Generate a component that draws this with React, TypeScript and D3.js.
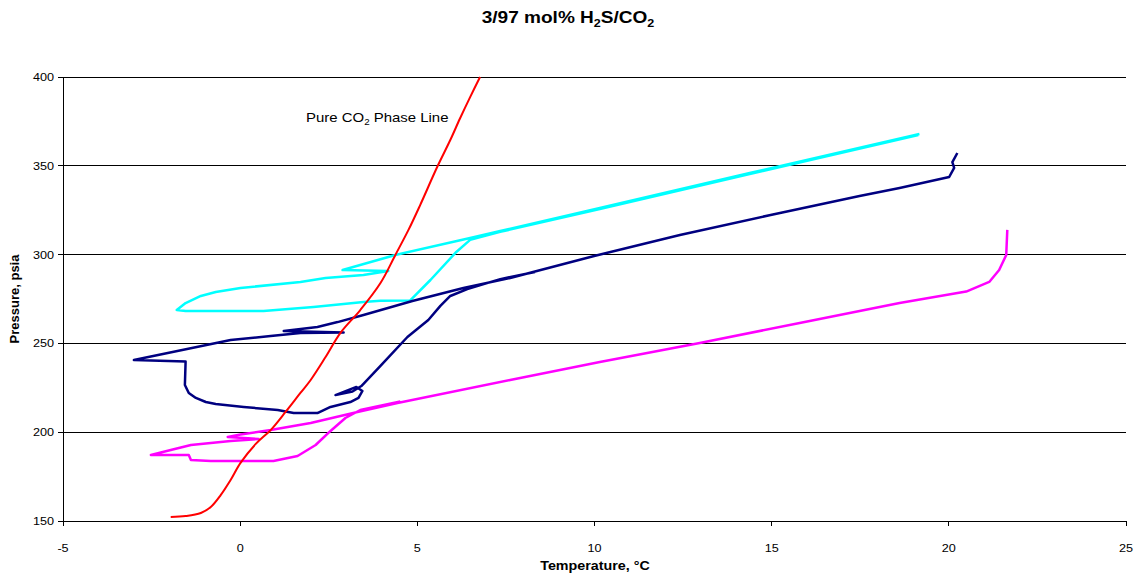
import React from "react";
import { scaleLinear, line, curveCatmullRom, curveLinear } from "d3";

// x: temperature (°C), y: pressure (psia)
const xTicks = [-5, 0, 5, 10, 15, 20, 25];
const yTicks = [150, 200, 250, 300, 350, 400];

// pure CO2 phase line
const pureCO2: [number, number][] = [
  [-1.96, 152.3], [-1.54, 152.8], [-1.11, 154.5], [-0.83, 157.9], [-0.55, 164.6],
  [-0.27, 173.1], [0.01, 182.7], [0.44, 193.4], [0.86, 201.2], [1.28, 211.4],
  [1.7, 222.1], [1.99, 229.4], [2.41, 242.3], [2.83, 255.9], [3.39, 268.8],
  [3.96, 284.0], [4.38, 299.8], [4.75, 313.9], [5.08, 327.9], [5.56, 349.3],
  [5.93, 364.5], [6.2, 376.5], [6.49, 388.7], [6.77, 400],
];

// cyan run
const runCyan: [number, number][] = [
  [19.17, 367.9], [14.38, 345.9], [10.15, 326.2], [7.34, 313.3], [6.49, 309.3],
  [4.38, 299.8], [2.89, 291.3], [4.18, 290.8], [3.48, 288.5], [2.41, 286.8],
  [1.7, 284.6], [0.01, 281.2], [-0.69, 278.9], [-1.11, 276.7], [-1.54, 272.7],
  [-1.79, 268.8], [-1.54, 268.2], [0.66, 268.2], [2.07, 270.5], [3.48, 273.3],
  [3.96, 274.0], [4.8, 274.2], [5.37, 285.7], [6.1, 301.5], [6.49, 308.3],
  [7.34, 312.8], [10.15, 325.7], [14.38, 345.4], [19.14, 367.3],
];

// navy run
const runNavy: [number, number][] = [
  [8.32, 290.2], [7.34, 286.2], [6.41, 280.6], [5.93, 276.7], [5.65, 271.1],
  [5.31, 263.2], [4.72, 253.6], [3.96, 237.3], [3.42, 226.0], [3.17, 222.9],
  [2.69, 220.9], [3.28, 225.5], [3.45, 223.2], [3.34, 219.3], [3.11, 217.0],
  [2.55, 214.2], [2.18, 210.8], [1.51, 210.8], [1.06, 212.5], [0.1, 214.2],
  [-0.69, 215.9], [-0.97, 217.0], [-1.25, 219.3], [-1.45, 222.1], [-1.56, 226.6],
  [-1.54, 239.8], [-3.0, 240.7], [-0.27, 251.9], [0.86, 254.2], [1.7, 255.9],
  [2.92, 256.1], [1.23, 257.0], [2.18, 259.2], [2.75, 262.0], [3.48, 266.0],
  [4.86, 273.9], [6.3, 281.2], [7.62, 286.8], [9.99, 299.2], [12.41, 311.0],
  [14.97, 322.3], [17.48, 333.0], [18.61, 337.5], [20.01, 343.7], [20.15, 348.8],
  [20.1, 352.1], [20.24, 357.2],
];

// magenta run
const runMagenta: [number, number][] = [
  [21.65, 313.9], [21.62, 299.8], [21.42, 291.3], [21.14, 284.6], [20.49, 279.2],
  [18.61, 272.7], [15.79, 261.5], [12.97, 250.2], [10.15, 239.5], [7.62, 229.4],
  [4.44, 216.4], [3.31, 211.4], [1.99, 205.2], [0.86, 201.2], [0.01, 198.7],
  [-0.35, 197.3], [0.52, 196.2], [-0.27, 195.0], [-1.39, 192.8], [-1.96, 190.0],
  [-2.52, 187.2], [-1.45, 187.2], [-1.39, 184.3], [-0.83, 183.8], [0.94, 183.8],
  [1.62, 186.6], [2.13, 192.8], [2.55, 200.7], [2.97, 208.0], [3.39, 212.5],
  [4.52, 217.3],
];

const series = [
  { name: "cyan", data: runCyan, color: "#00FFFF", width: 2.5, smooth: false },
  { name: "navy", data: runNavy, color: "#000080", width: 2.5, smooth: false },
  { name: "magenta", data: runMagenta, color: "#FF00FF", width: 2.5, smooth: false },
  { name: "pureCO2", data: pureCO2, color: "#FF0000", width: 2, smooth: true },
];

const W = 1137;
const H = 577;
const left = 63;
const right = 1126;
const top = 77;
const bottom = 521;
const font = "'Liberation Sans', Arial, sans-serif";
const stretch = 1.15; // the original's text is a bit wide

// text drawn at (x, y) and widened horizontally
function WideText({ x, y, sx = stretch, anchor = "start", size, bold, children }: any) {
  return (
    <text
      transform={`translate(${x},${y}) scale(${sx},1)`}
      textAnchor={anchor}
      fontSize={size}
      fontWeight={bold ? "bold" : "normal"}
    >
      {children}
    </text>
  );
}

export default function App() {
  const x = scaleLinear().domain([-5, 25]).range([left, right]);
  const y = scaleLinear().domain([150, 400]).range([bottom, top]);

  return (
    <svg
      width={W}
      height={H}
      style={{ position: "absolute", left: 0, top: 0, background: "#fff" }}
      fontFamily={font}
    >
      {/* gridlines */}
      {yTicks.map((t) => (
        <line key={"g" + t} x1={left} x2={right} y1={y(t)} y2={y(t)} stroke="#000" strokeWidth={1} shapeRendering="crispEdges" />
      ))}
      {/* y axis */}
      <line x1={left} x2={left} y1={top} y2={bottom} stroke="#000" shapeRendering="crispEdges" />
      {yTicks.map((t) => (
        <g key={"y" + t}>
          <line x1={left - 5} x2={left} y1={y(t)} y2={y(t)} stroke="#000" shapeRendering="crispEdges" />
          <WideText x={left - 9} y={y(t) + 4} anchor="end" size={11}>{t}</WideText>
        </g>
      ))}
      {/* x axis */}
      <line x1={left} x2={right} y1={bottom} y2={bottom} stroke="#000" shapeRendering="crispEdges" />
      {xTicks.map((t) => (
        <g key={"x" + t}>
          <line x1={x(t)} x2={x(t)} y1={bottom} y2={bottom + 5} stroke="#000" shapeRendering="crispEdges" />
          <WideText x={x(t)} y={bottom + 31} anchor="middle" size={11}>{t}</WideText>
        </g>
      ))}

      {series.map((s) => {
        const path = line<[number, number]>()
          .x((d) => x(d[0]))
          .y((d) => y(d[1]))
          .curve(s.smooth ? curveCatmullRom : curveLinear);
        return (
          <path key={s.name} d={path(s.data) || ""} fill="none" stroke={s.color} strokeWidth={s.width} strokeLinejoin="round" />
        );
      })}

      {/* annotation */}
      <WideText x={306} y={122} size={13}>
        Pure CO<tspan fontSize={8.5} dy={3}>2</tspan><tspan dy={-3}> Phase Line</tspan>
      </WideText>

      {/* title */}
      <WideText x={568} y={23} sx={1.19} anchor="middle" size={16} bold>
        3/97 mol% H<tspan fontSize={10.5} dy={3.5}>2</tspan><tspan dy={-3.5}>S/CO</tspan><tspan fontSize={10.5} dy={3.5}>2</tspan>
      </WideText>

      {/* axis titles */}
      <WideText x={595} y={570} sx={1.1} anchor="middle" size={13} bold>Temperature, °C</WideText>
      <text transform={`translate(19, ${(top + bottom) / 2}) rotate(-90)`} textAnchor="middle" fontSize={13} fontWeight="bold">
        Pressure, psia
      </text>
    </svg>
  );
}
